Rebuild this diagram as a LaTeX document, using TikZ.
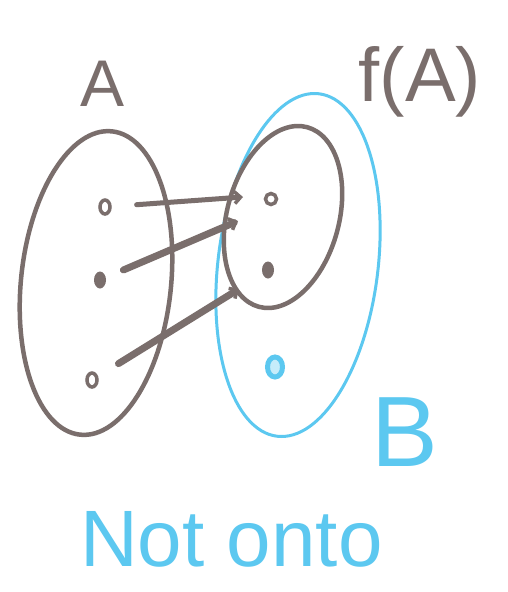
\documentclass[tikz,border=0pt]{standalone}
\usepackage{fontspec}
\setmainfont{Liberation Sans}
\usetikzlibrary{arrows.meta,shapes.geometric}
\definecolor{ink}{HTML}{7A6E6C}
\definecolor{sky}{HTML}{5CC8F0}
\tikzset{
  setink/.style={draw=ink, line width=4.5pt, ellipse, inner sep=0pt},
  setsky/.style={draw=sky, line width=3pt, ellipse, inner sep=0pt},
  hollowpt/.style={draw=ink, line width=3.5pt, ellipse, minimum width=10pt, minimum height=14pt, inner sep=0pt},
  filledpt/.style={fill=ink, ellipse, minimum width=12pt, minimum height=17pt, inner sep=0pt},
  skypt/.style={draw=sky, fill=sky!35, line width=5pt, ellipse, minimum width=15pt, minimum height=20pt, inner sep=0pt},
  mapsto/.style={draw=ink, line width=7pt, line cap=round, -{Straight Barb[length=6pt,width=12pt,line width=3.5pt]}},
  inklabel/.style={text=ink, inner sep=0pt},
  skylabel/.style={text=sky, inner sep=0pt}
}
\begin{document}
\begin{tikzpicture}[x=1pt,y=-1pt]
\useasboundingbox[fill=white] (0,0) rectangle (507,592);
% sets
\node[setink, minimum width=150pt, minimum height=305pt, rotate=-6] (setA) at (96,283) {};
\node[setsky, minimum width=160pt, minimum height=345pt, rotate=-7] (setB) at (298,265) {};
\node[setink, minimum width=112pt, minimum height=186pt, rotate=-15] (setFA) at (283,217) {};
% elements
\node[hollowpt] (a1) at (105,207) {};
\node[filledpt] (a2) at (100,280) {};
\node[hollowpt] (a3) at (92,380) {};
\node[hollowpt, minimum width=11pt, minimum height=11pt] (b1) at (271,199) {};
\node[filledpt] (b2) at (268,270) {};
\node[skypt] (b3) at (275,367) {};
% arrow ends on the boundary of f(A)
\coordinate (e1) at (243,197);
\coordinate (e2) at (238,221);
\coordinate (e3) at (239,289);
\draw[mapsto, line width=5pt, shorten <=25pt] (a1) -- (e1);
\draw[mapsto, shorten <=19pt] (a2) -- (e2);
\draw[mapsto, shorten <=24pt] (a3) -- (e3);
% labels
\node[inklabel, font=\fontsize{66}{72}\selectfont] (labA) at (103,84) {A};
\node[inklabel, font=\fontsize{76}{84}\selectfont] (labFA) at (420,82) {f(A)};
\node[skylabel, font=\fontsize{100}{110}\selectfont] (labB) at (405,432) {B};
\node[skylabel, font=\fontsize{80}{90}\selectfont, anchor=base west] (labNot) at (80,566) {Not onto};
\end{tikzpicture}
\end{document}
